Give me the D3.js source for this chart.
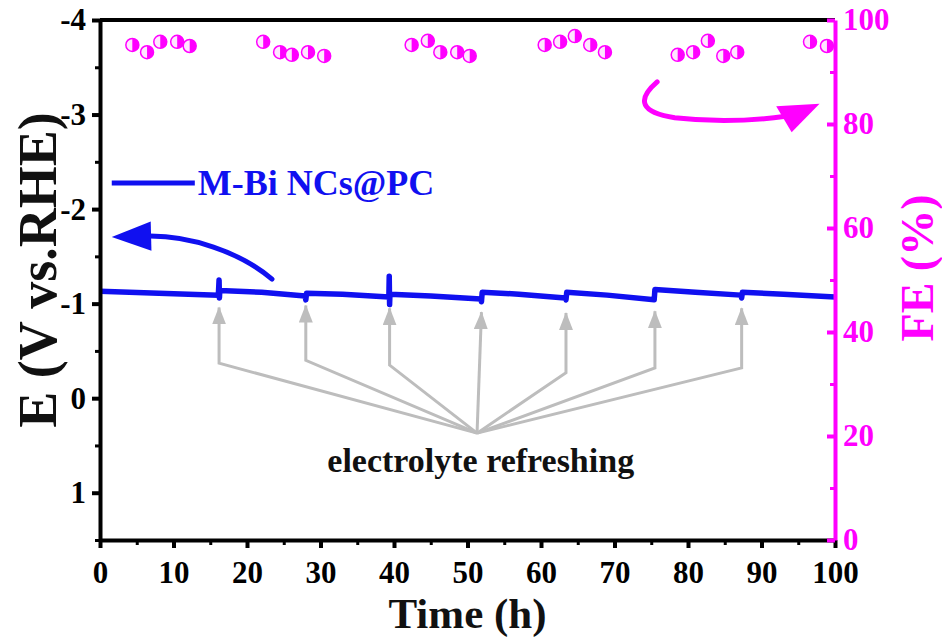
<!DOCTYPE html>
<html>
<head>
<meta charset="utf-8">
<script src="https://cdn.jsdelivr.net/npm/d3@7"></script>
<style>
  body { margin: 0; background: #fff; }
  svg { display: block; font-family: "Liberation Serif", "Times New Roman", serif; font-weight: bold; }
</style>
</head>
<body>
<div id="chart"></div>
<script>
// potential trace (h, V vs RHE)
const hours = [0, 8, 16.1, 16.2, 16.25, 16.3, 22, 27.9, 28.0, 28.1, 33, 39.3, 39.35, 39.4, 39.45,
  45, 51.8, 51.9, 52.0, 57, 63.3, 63.4, 63.5, 69, 75.4, 75.5, 81, 87.2, 87.3, 87.4, 93, 100];
const potential = [-1.13, -1.11, -1.09, -1.25, -1.06, -1.14, -1.12, -1.08, -1.04, -1.11, -1.10, -1.07, -1.29, -0.99, -1.10,
  -1.08, -1.05, -1.02, -1.12, -1.10, -1.06, -1.04, -1.12, -1.09, -1.04, -1.15, -1.12, -1.09, -1.06, -1.12, -1.10, -1.07];

// faradaic efficiency points
const feHours = [4.4, 6.4, 8.2, 10.5, 12.2, 22.2, 24.5, 26.1, 28.3, 30.5, 42.4, 44.6, 46.3, 48.6, 50.3,
  60.5, 62.6, 64.6, 66.7, 68.7, 78.6, 80.7, 82.7, 84.8, 86.7, 96.6, 98.9];
const feValues = [95.2, 93.8, 95.8, 95.8, 95.0, 95.8, 93.8, 93.3, 93.8, 93.1, 95.2, 96.0, 93.8, 93.8, 93.1,
  95.2, 95.8, 96.9, 95.2, 93.8, 93.3, 93.8, 96.0, 93.1, 93.8, 95.8, 95.0];

// electrolyte refreshing annotation
const refreshTimes = [16.2, 28.0, 39.4, 51.9, 63.4, 75.5, 87.3];
const arrowTipE = [-0.96, -0.98, -0.95, -0.91, -0.90, -0.92, -0.95];
const arrowBendE = [-0.37, -0.40, -0.35, null, -0.27, -0.32, -0.32];
const hubPoint = [51.3, 0.37];

const xTicks = [0, 10, 20, 30, 40, 50, 60, 70, 80, 90, 100];
const xMinor = [5, 15, 25, 35, 45, 55, 65, 75, 85, 95];
const eTicks = [-4, -3, -2, -1, 0, 1];
const eMinor = [-3.5, -2.5, -1.5, -0.5, 0.5, 1.5];
const feTicks = [0, 20, 40, 60, 80, 100];
const feMinor = [10, 30, 50, 70, 90];

const W = 942, H = 642;
const margin = { top: 20, right: 107, bottom: 102, left: 100 };
const w = W - margin.left - margin.right;
const h = H - margin.top - margin.bottom;
const BLUE = "#1010f0", MAGENTA = "#ff00ff", GREY = "#bdbdbd";

const x = d3.scaleLinear().domain([0, 100]).range([0, w]);
const yE = d3.scaleLinear().domain([-4, 1.5]).range([0, h]);
const yFE = d3.scaleLinear().domain([0, 100]).range([h, 0]);

const svg = d3.select("#chart").append("svg")
  .attr("width", W).attr("height", H)
  .append("g")
  .attr("transform", `translate(${margin.left},${margin.top})`);

// grey arrows
const defs = svg.append("defs");
defs.append("marker")
  .attr("id", "greyHead")
  .attr("markerUnits", "userSpaceOnUse")
  .attr("viewBox", "0 0 18 14")
  .attr("refX", 17).attr("refY", 7)
  .attr("markerWidth", 18).attr("markerHeight", 14)
  .attr("orient", "auto")
  .append("path").attr("d", "M0,0 L18,7 L0,14 Z").attr("fill", GREY);

const hub = [x(hubPoint[0]), yE(hubPoint[1])];
refreshTimes.forEach((t, i) => {
  const tip = [x(t), yE(arrowTipE[i])];
  const bend = arrowBendE[i] === null ? hub : [x(t), yE(arrowBendE[i])];
  svg.append("path")
    .attr("d", `M${hub[0]},${hub[1]} L${bend[0]},${bend[1]} L${tip[0]},${tip[1]}`)
    .attr("fill", "none")
    .attr("stroke", GREY)
    .attr("stroke-width", 3)
    .attr("marker-end", "url(#greyHead)");
});

svg.append("text")
  .attr("x", x(51.8)).attr("y", yE(0.78))
  .attr("text-anchor", "middle")
  .attr("font-size", 34)
  .attr("fill", "#111")
  .text("electrolyte refreshing");

// potential line
const line = d3.line().x((d, i) => x(hours[i])).y(d => yE(d));
svg.append("path")
  .datum(potential)
  .attr("d", line)
  .attr("fill", "none")
  .attr("stroke", BLUE)
  .attr("stroke-width", 5.5)
  .attr("stroke-linejoin", "round");

// FE half-filled circles
const r = 6.5;
const dots = svg.selectAll(".fe")
  .data(feValues)
  .enter().append("g")
  .attr("transform", (d, i) => `translate(${x(feHours[i])},${yFE(d)})`);
dots.append("circle").attr("r", r).attr("fill", "#ffe6ff").attr("stroke", MAGENTA).attr("stroke-width", 1.5);
dots.append("path").attr("d", `M0,${-r} A${r},${r} 0 0 1 0,${r} Z`).attr("fill", MAGENTA);

// legend
svg.append("line")
  .attr("x1", x(1.6)).attr("x2", x(12.9))
  .attr("y1", yE(-2.275)).attr("y2", yE(-2.275))
  .attr("stroke", BLUE).attr("stroke-width", 5);
svg.append("text")
  .attr("x", x(13.3)).attr("y", yE(-2.15))
  .attr("font-size", 36)
  .attr("fill", BLUE)
  .text("M-Bi NCs@PC");

// blue curved arrow (left axis)
const bluePts = [[6.5, -1.714], [12.2, -1.72], [19.0, -1.55], [23.4, -1.259]];
svg.append("path")
  .attr("d", `M${x(bluePts[0][0])},${yE(bluePts[0][1])} C${x(bluePts[1][0])},${yE(bluePts[1][1])} ${x(bluePts[2][0])},${yE(bluePts[2][1])} ${x(bluePts[3][0])},${yE(bluePts[3][1])}`)
  .attr("fill", "none").attr("stroke", BLUE).attr("stroke-width", 5).attr("stroke-linecap", "round");
const blueHead = [[1.6, -1.704], [6.9, -1.87], [7.0, -1.56]];
svg.append("path")
  .attr("d", "M" + blueHead.map(p => `${x(p[0])},${yE(p[1])}`).join(" L") + " Z")
  .attr("fill", BLUE);

// magenta curved arrow (right axis)
const magPts = [[75.8, 88.1], [71.4, 82.7], [78.2, 81.2], [85.7, 80.0], [93.3, 81.5]];
svg.append("path")
  .attr("d", `M${x(magPts[0][0])},${yFE(magPts[0][1])} Q${x(magPts[1][0])},${yFE(magPts[1][1])} ${x(magPts[2][0])},${yFE(magPts[2][1])} Q${x(magPts[3][0])},${yFE(magPts[3][1])} ${x(magPts[4][0])},${yFE(magPts[4][1])}`)
  .attr("fill", "none").attr("stroke", MAGENTA).attr("stroke-width", 5).attr("stroke-linecap", "round");
const magHead = [[97.9, 83.9], [92.0, 83.4], [94.1, 78.4]];
svg.append("path")
  .attr("d", "M" + magHead.map(p => `${x(p[0])},${yFE(p[1])}`).join(" L") + " Z")
  .attr("fill", MAGENTA);

// axes
function styleAxis(g, color, size) {
  g.select(".domain").attr("stroke", color).attr("stroke-width", 4);
  g.selectAll(".tick line").attr("stroke", color).attr("stroke-width", 4);
  g.selectAll(".tick text").attr("fill", color).attr("font-size", size)
    .attr("font-family", "Liberation Serif, serif").attr("font-weight", "bold");
}

// top border
svg.append("line").attr("x1", 0).attr("x2", w).attr("y1", 0).attr("y2", 0)
  .attr("stroke", "#000").attr("stroke-width", 4);

const gx = svg.append("g").attr("transform", `translate(0,${h})`)
  .call(d3.axisBottom(x).tickValues(xTicks).tickSizeInner(8).tickSizeOuter(0).tickPadding(13).tickFormat(d => String(d)));
styleAxis(gx, "#000", 31);
svg.append("g").attr("transform", `translate(0,${h})`)
  .call(d3.axisBottom(x).tickValues(xMinor).tickSizeInner(5).tickSizeOuter(0).tickFormat(""))
  .call(g => { g.select(".domain").remove(); styleAxis(g, "#000", 0); g.selectAll(".tick line").attr("stroke-width", 3); });

const gl = svg.append("g")
  .call(d3.axisLeft(yE).tickValues(eTicks).tickSizeInner(8).tickSizeOuter(0).tickPadding(6).tickFormat(d => String(d)));
styleAxis(gl, "#000", 31);
svg.append("g")
  .call(d3.axisLeft(yE).tickValues(eMinor).tickSizeInner(5).tickSizeOuter(0).tickFormat(""))
  .call(g => { g.select(".domain").remove(); styleAxis(g, "#000", 0); g.selectAll(".tick line").attr("stroke-width", 3); });

const gr = svg.append("g").attr("transform", `translate(${w},0)`)
  .call(d3.axisRight(yFE).tickValues(feTicks).tickSizeInner(-8).tickSizeOuter(0).tickPadding(8).tickFormat(d => String(d)));
styleAxis(gr, MAGENTA, 31);
svg.append("g").attr("transform", `translate(${w},0)`)
  .call(d3.axisRight(yFE).tickValues(feMinor).tickSizeInner(-5).tickSizeOuter(0).tickFormat(""))
  .call(g => { g.select(".domain").remove(); styleAxis(g, MAGENTA, 0); g.selectAll(".tick line").attr("stroke-width", 3); });

// axis titles
svg.append("text")
  .attr("x", w / 2).attr("y", h + 88)
  .attr("text-anchor", "middle").attr("font-size", 43)
  .attr("fill", "#111")
  .text("Time (h)");

svg.append("text")
  .attr("transform", `translate(${56 - margin.left},${h / 2 - 10}) rotate(-90)`)
  .attr("text-anchor", "middle").attr("font-size", 54)
  .attr("fill", "#111")
  .text("E (V vs.RHE)");

svg.append("text")
  .attr("transform", `translate(${w + 98},${h / 2 - 12}) rotate(-90)`)
  .attr("text-anchor", "middle").attr("font-size", 46)
  .attr("fill", MAGENTA)
  .text("FE (%)");
</script>
</body>
</html>
